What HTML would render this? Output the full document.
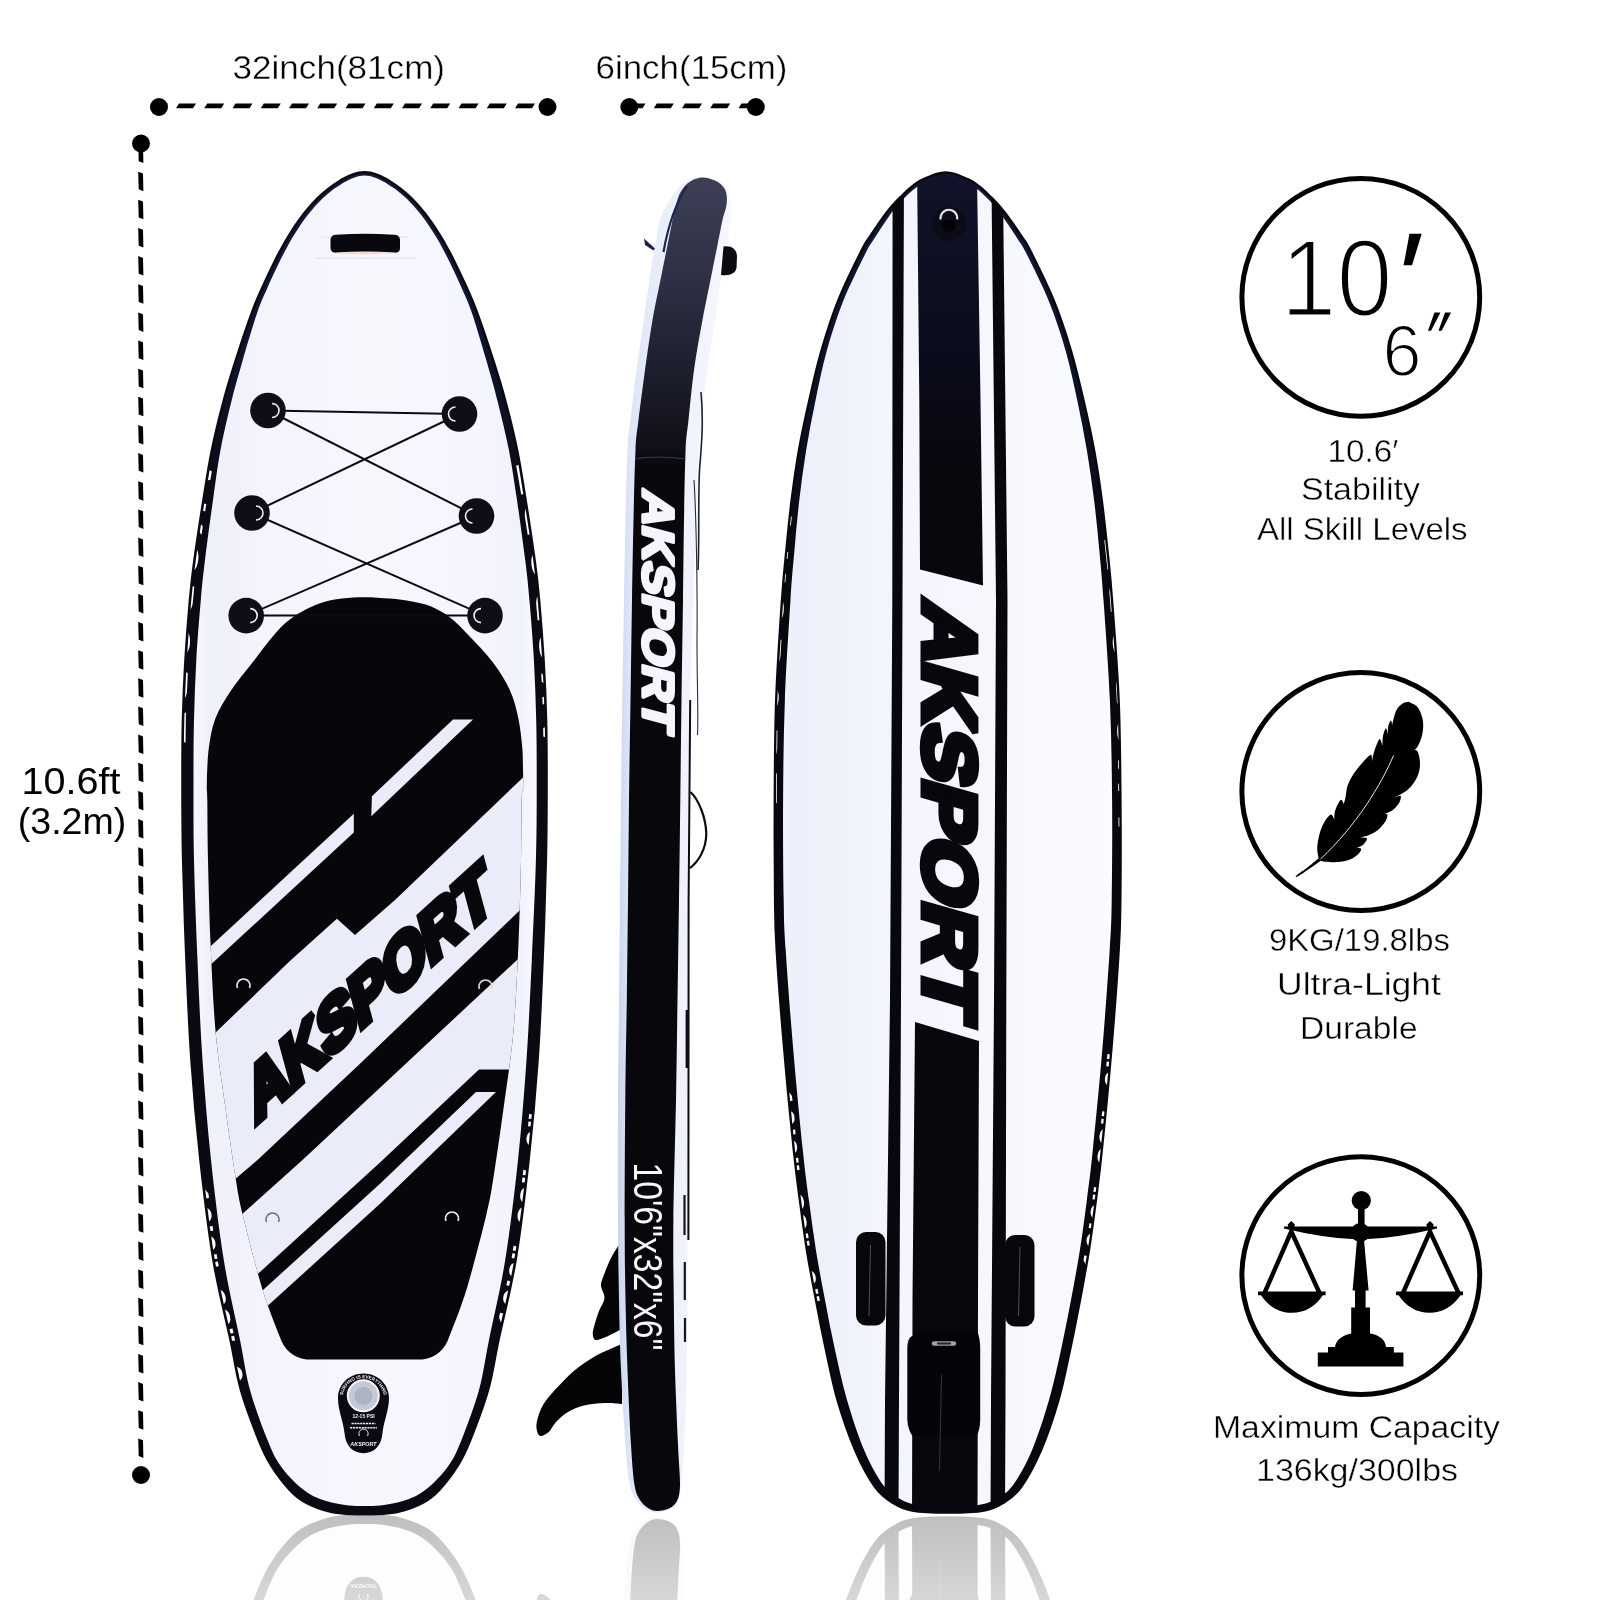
<!DOCTYPE html>
<html lang="en">
<head>
<meta charset="utf-8">
<title>AKSPORT inflatable paddle board 10'6" - dimensions</title>
<style>
html,body{margin:0;padding:0;background:#fff;}
body{width:1600px;height:1600px;overflow:hidden;font-family:'Liberation Sans', Arial, Helvetica, sans-serif;}
svg{display:block;will-change:transform;}
</style>
</head>
<body>
<svg width="1600" height="1600" viewBox="0 0 1600 1600" role="img" aria-label="AKSPORT inflatable stand up paddle board, deck, side and bottom views with dimensions">
<defs>
<linearGradient id="railnavy" gradientUnits="userSpaceOnUse" x1="0" y1="170" x2="0" y2="520"><stop offset="0" stop-color="#141c3e"/><stop offset="0.6" stop-color="#0e1228"/><stop offset="1" stop-color="#0a0a12"/></linearGradient><linearGradient id="deckg" x1="0" y1="0" x2="1" y2="0"><stop offset="0" stop-color="#f6f7fd"/><stop offset="0.05" stop-color="#eef0fa"/><stop offset="0.2" stop-color="#f3f4fc"/><stop offset="0.5" stop-color="#f7f8fe"/><stop offset="0.8" stop-color="#f5f6fd"/><stop offset="0.95" stop-color="#f1f3fc"/><stop offset="1" stop-color="#f9fafe"/></linearGradient><path id="b1rl1" d="M180.5 450.0C179.1 458.3 174.9 481.7 172.0 500.0C169.1 518.3 165.2 543.3 163.0 560.0C160.8 576.7 160.0 583.3 158.5 600.0C157.0 616.7 155.2 640.0 154.0 660.0C152.8 680.0 152.0 700.0 151.5 720.0C151.0 740.0 151.1 770.0 151.0 780.0"/><path id="b1rl2" d="M179.5 1160.0C181.7 1176.7 187.5 1230.0 192.5 1260.0C197.5 1290.0 205.0 1318.3 209.6 1340.0C214.2 1361.7 218.3 1381.7 220.0 1390.0"/><path id="b1rr1" d="M578.0 780.0C577.9 770.0 578.0 740.0 577.5 720.0C577.0 700.0 576.2 680.0 575.0 660.0C573.8 640.0 572.0 616.7 570.5 600.0C569.0 583.3 568.2 576.7 566.0 560.0C563.8 543.3 559.9 518.3 557.0 500.0C554.1 481.7 549.9 458.3 548.5 450.0"/><path id="b1rr2" d="M509.0 1390.0C510.7 1381.7 514.8 1361.7 519.4 1340.0C524.0 1318.3 531.5 1290.0 536.5 1260.0C541.5 1230.0 545.8 1193.3 549.5 1160.0C553.2 1126.7 557.0 1076.7 558.5 1060.0"/><clipPath id="padclip"><path d="M206.8 790.0C206.9 786.7 206.8 777.2 207.2 770.0C207.6 762.8 207.7 755.3 209.0 746.8C210.3 738.2 211.6 728.1 215.3 718.7C219.0 709.3 224.8 700.0 231.0 690.6C237.2 681.2 245.2 671.9 252.5 662.5C259.8 653.1 267.8 641.9 274.5 634.4C281.2 626.9 285.1 622.6 292.5 617.5C299.9 612.4 310.4 606.9 318.7 603.8C326.9 600.6 334.4 599.7 342.0 598.6C349.6 597.5 356.5 597.2 364.5 597.2C372.5 597.2 382.1 597.9 390.0 598.6C397.9 599.3 405.1 600.3 412.0 601.6C418.9 602.9 424.9 604.0 431.2 606.6C437.5 609.2 443.9 612.9 450.0 617.5C456.1 622.1 460.6 626.9 467.8 634.4C475.0 641.9 486.0 653.1 493.0 662.5C500.0 671.9 505.8 681.2 510.0 690.6C514.2 700.0 516.4 709.3 518.4 718.7C520.4 728.1 521.4 738.2 522.2 746.8C523.0 755.3 522.8 762.8 523.0 770.0C523.2 777.2 523.2 786.7 523.2 790.0C523.0 791.7 522.1 788.3 521.7 800.0C521.3 811.7 521.5 835.8 521.0 860.0C520.5 884.2 519.7 916.3 518.4 945.0C517.1 973.7 515.8 1005.3 513.4 1032.0C511.0 1058.7 507.3 1080.7 504.0 1105.0C500.7 1129.3 496.3 1159.8 493.4 1178.0C490.5 1196.2 490.2 1198.0 486.5 1214.0C482.8 1230.0 475.2 1258.7 471.0 1274.0C466.8 1289.3 464.6 1295.7 461.0 1306.0C457.4 1316.3 451.4 1331.0 449.5 1336.0Q443.0 1356.5 422.5 1359.5L306.5 1359.5Q286.0 1356.5 279.5 1336.0C277.6 1331.0 271.6 1316.3 268.0 1306.0C264.4 1295.7 262.2 1289.3 258.0 1274.0C253.8 1258.7 246.2 1230.0 242.5 1214.0C238.8 1198.0 238.5 1196.2 235.6 1178.0C232.7 1159.8 228.3 1129.3 225.0 1105.0C221.7 1080.7 218.0 1058.7 215.6 1032.0C213.2 1005.3 211.9 973.7 210.6 945.0C209.3 916.3 208.6 884.2 208.0 860.0C207.4 835.8 207.5 811.7 207.3 800.0C207.1 788.3 206.9 791.7 206.8 790.0Z"/></clipPath><path id="valvearc" d="M342.5 1399A20.8 20.8 0 0 1 384.1 1399"/><linearGradient id="railg" x1="0" y1="0" x2="1" y2="0"><stop offset="0" stop-color="#c9d3ec"/><stop offset="0.1" stop-color="#dde5f6"/><stop offset="0.5" stop-color="#eef1fb"/><stop offset="1" stop-color="#f7f8fe"/></linearGradient><linearGradient id="bandg" gradientUnits="userSpaceOnUse" x1="0" y1="177" x2="0" y2="470"><stop offset="0" stop-color="#3c3f55"/><stop offset="0.3" stop-color="#303348"/><stop offset="0.62" stop-color="#1f2130"/><stop offset="0.92" stop-color="#0f1018"/><stop offset="1" stop-color="#07070c"/></linearGradient><linearGradient id="hullnavy" gradientUnits="userSpaceOnUse" x1="0" y1="170" x2="0" y2="560"><stop offset="0" stop-color="#121838"/><stop offset="0.6" stop-color="#0d1024"/><stop offset="1" stop-color="#08080f"/></linearGradient><clipPath id="hullclip"><path d="M945.6 172.5C942.6 172.5 939.4 173.2 936.6 174.0C933.8 174.8 931.4 175.8 928.6 177.0C925.8 178.2 922.0 179.8 919.6 181.0C917.3 182.2 916.3 183.2 914.6 184.5C913.0 185.8 911.8 186.6 909.7 188.5C907.5 190.4 904.3 193.5 901.7 196.0C899.1 198.5 896.7 200.8 894.2 203.5C891.7 206.2 889.5 208.9 886.7 212.5C884.0 216.1 880.6 220.9 877.8 225.0C875.0 229.1 872.5 232.8 869.8 237.0C867.2 241.2 867.1 239.5 861.9 250.0C856.6 260.5 845.2 283.3 838.5 300.0C831.8 316.7 826.6 333.3 821.7 350.0C816.8 366.7 813.1 383.3 809.4 400.0C805.6 416.7 802.0 433.3 799.0 450.0C796.1 466.7 793.8 483.3 791.7 500.0C789.6 516.7 788.0 533.3 786.4 550.0C784.7 566.7 783.7 575.0 782.0 600.0C780.3 625.0 777.4 666.7 776.2 700.0C775.0 733.3 775.0 766.7 774.8 800.0C774.6 833.3 774.8 875.0 775.1 900.0C775.4 925.0 775.2 925.0 776.7 950.0C778.2 975.0 781.4 1016.7 784.3 1050.0C787.1 1083.3 791.2 1125.0 793.8 1150.0C796.4 1175.0 797.7 1183.3 799.9 1200.0C802.1 1216.7 804.2 1233.3 806.9 1250.0C809.6 1266.7 812.8 1283.3 816.0 1300.0C819.1 1316.7 822.4 1333.3 826.0 1350.0C829.6 1366.7 832.7 1383.3 837.5 1400.0C842.4 1416.7 848.8 1435.5 855.1 1450.0C861.3 1464.5 868.7 1478.2 875.1 1487.0C881.4 1495.8 886.9 1499.1 893.1 1503.0C899.3 1506.9 902.9 1508.9 912.1 1510.5C921.3 1512.1 936.1 1512.5 948.1 1512.5C960.1 1512.5 974.9 1512.1 984.1 1510.5C993.3 1508.9 996.9 1506.9 1003.1 1503.0C1009.3 1499.1 1014.8 1495.8 1021.1 1487.0C1027.4 1478.2 1034.8 1464.5 1041.1 1450.0C1047.3 1435.5 1053.7 1416.7 1058.5 1400.0C1063.3 1383.3 1066.4 1366.7 1070.0 1350.0C1073.6 1333.3 1076.8 1316.7 1080.0 1300.0C1083.1 1283.3 1086.3 1266.7 1088.9 1250.0C1091.6 1233.3 1093.7 1216.7 1095.9 1200.0C1098.0 1183.3 1099.3 1175.0 1101.8 1150.0C1104.4 1125.0 1108.5 1083.3 1111.3 1050.0C1114.1 1016.7 1117.2 975.0 1118.7 950.0C1120.2 925.0 1120.0 925.0 1120.3 900.0C1120.6 875.0 1120.7 833.3 1120.4 800.0C1120.1 766.7 1120.0 733.3 1118.6 700.0C1117.2 666.7 1113.9 625.0 1112.0 600.0C1110.2 575.0 1109.1 566.7 1107.4 550.0C1105.6 533.3 1103.9 516.7 1101.7 500.0C1099.5 483.3 1097.1 466.7 1094.0 450.0C1091.0 433.3 1087.2 416.7 1083.4 400.0C1079.5 383.3 1075.7 366.7 1070.7 350.0C1065.7 333.3 1060.3 316.7 1053.5 300.0C1046.7 283.3 1035.1 260.5 1029.9 250.0C1024.6 239.5 1024.5 241.2 1021.8 237.0C1019.1 232.8 1016.6 229.1 1013.8 225.0C1010.9 220.9 1007.5 216.1 1004.7 212.5C1002.0 208.9 999.7 206.2 997.2 203.5C994.7 200.8 992.3 198.5 989.7 196.0C987.1 193.5 983.8 190.4 981.7 188.5C979.5 186.6 978.3 185.8 976.6 184.5C975.0 183.2 974.0 182.2 971.6 181.0C969.3 179.8 965.5 178.2 962.6 177.0C959.8 175.8 957.4 174.8 954.6 174.0C951.8 173.2 948.6 172.5 945.6 172.5Z"/></clipPath><linearGradient id="hullg" x1="0" y1="0" x2="1" y2="0"><stop offset="0" stop-color="#f2f4fc"/><stop offset="0.04" stop-color="#eceff9"/><stop offset="0.3" stop-color="#f3f5fc"/><stop offset="0.7" stop-color="#f7f8fe"/><stop offset="0.95" stop-color="#f9fafe"/><stop offset="1" stop-color="#fbfcff"/></linearGradient><linearGradient id="stripenavy" gradientUnits="userSpaceOnUse" x1="0" y1="170" x2="0" y2="480"><stop offset="0" stop-color="#10132a"/><stop offset="0.7" stop-color="#0a0b18"/><stop offset="1" stop-color="#07070d"/></linearGradient><path id="b3rl1" d="M766.5 450.0C765.3 458.3 761.3 483.3 759.2 500.0C757.1 516.7 755.5 533.3 753.9 550.0C752.2 566.7 751.2 575.0 749.5 600.0C747.8 625.0 744.9 666.7 743.7 700.0C742.5 733.3 742.5 766.7 742.3 800.0C742.1 833.3 742.5 883.3 742.6 900.0"/><path id="b3rl2" d="M762.8 1050.0C764.4 1066.7 769.7 1125.0 772.3 1150.0C774.9 1175.0 776.2 1183.3 778.4 1200.0C780.6 1216.7 782.7 1233.3 785.4 1250.0C788.1 1266.7 791.3 1283.3 794.5 1300.0C797.6 1316.7 800.9 1333.3 804.5 1350.0C808.1 1366.7 814.1 1391.7 816.0 1400.0"/><path id="b3rr1" d="M1152.8 900.0C1152.8 883.3 1153.2 833.3 1152.9 800.0C1152.6 766.7 1152.5 733.3 1151.1 700.0C1149.7 666.7 1146.4 625.0 1144.5 600.0C1142.7 575.0 1141.6 566.7 1139.9 550.0C1138.1 533.3 1136.4 516.7 1134.2 500.0C1132.0 483.3 1127.8 458.3 1126.5 450.0"/><path id="b3rr2" d="M1080.0 1400.0C1081.9 1391.7 1087.9 1366.7 1091.5 1350.0C1095.1 1333.3 1098.3 1316.7 1101.5 1300.0C1104.6 1283.3 1107.8 1266.7 1110.4 1250.0C1113.1 1233.3 1115.2 1216.7 1117.4 1200.0C1119.5 1183.3 1120.8 1175.0 1123.3 1150.0C1125.9 1125.0 1131.2 1066.7 1132.8 1050.0"/><clipPath id="floorclip"><rect x="0" y="1515.5" width="1600" height="90"/></clipPath><linearGradient id="fade" gradientUnits="userSpaceOnUse" x1="0" y1="1515" x2="0" y2="1600"><stop offset="0" stop-color="#fff" stop-opacity="0.74"/><stop offset="1" stop-color="#fff" stop-opacity="0.84"/></linearGradient>
</defs>
<rect width="1600" height="1600" fill="#fff"/>
<g id="dimension-lines">
<path d="M159.0 108.2L162.0 103.4L167.8 103.4L164.8 108.2ZM176.0 108.2L179.0 103.4L196.0 103.4L193.0 108.2ZM204.2 108.2L207.2 103.4L224.2 103.4L221.2 108.2ZM232.5 108.2L235.5 103.4L252.5 103.4L249.5 108.2ZM260.8 108.2L263.8 103.4L280.8 103.4L277.8 108.2ZM289.0 108.2L292.0 103.4L309.0 103.4L306.0 108.2ZM317.2 108.2L320.2 103.4L337.2 103.4L334.2 108.2ZM345.5 108.2L348.5 103.4L365.5 103.4L362.5 108.2ZM373.8 108.2L376.8 103.4L393.8 103.4L390.8 108.2ZM402.0 108.2L405.0 103.4L422.0 103.4L419.0 108.2ZM430.2 108.2L433.2 103.4L450.2 103.4L447.2 108.2ZM458.5 108.2L461.5 103.4L478.5 103.4L475.5 108.2ZM486.8 108.2L489.8 103.4L506.8 103.4L503.8 108.2ZM515.0 108.2L518.0 103.4L535.0 103.4L532.0 108.2ZM543.2 108.2L546.2 103.4L549.0 103.4L546.0 108.2Z" fill="#000"/>
<circle cx="159" cy="107" r="9" fill="#000"/>
<circle cx="547.5" cy="107" r="9" fill="#000"/>
<path d="M629.0 108.2L632.0 103.4L645.5 103.4L642.5 108.2ZM653.8 108.2L656.8 103.4L673.8 103.4L670.8 108.2ZM682.0 108.2L685.0 103.4L702.0 103.4L699.0 108.2ZM710.2 108.2L713.2 103.4L730.2 103.4L727.2 108.2ZM738.5 108.2L741.5 103.4L757.5 103.4L754.5 108.2Z" fill="#000"/>
<circle cx="629.3" cy="107" r="9" fill="#000"/>
<circle cx="755.8" cy="107" r="9" fill="#000"/>
<path d="M138.2 143.5L143.0 145.3L143.4 163.0L138.7 161.2ZM138.2 171.7L143.0 173.5L143.4 191.2L138.7 189.3ZM138.2 199.8L143.0 201.6L143.4 219.3L138.7 217.5ZM138.2 228.0L143.0 229.8L143.4 247.5L138.7 245.7ZM138.2 256.1L143.0 257.9L143.4 275.6L138.7 273.8ZM138.2 284.2L143.0 286.1L143.4 303.8L138.7 301.9ZM138.2 312.4L143.0 314.2L143.4 331.9L138.7 330.1ZM138.2 340.5L143.0 342.3L143.4 360.0L138.7 358.2ZM138.2 368.7L143.0 370.5L143.4 388.2L138.7 386.4ZM138.2 396.8L143.0 398.6L143.4 416.3L138.7 414.5ZM138.2 425.0L143.0 426.8L143.4 444.5L138.7 442.7ZM138.2 453.1L143.0 454.9L143.4 472.6L138.7 470.8ZM138.2 481.3L143.0 483.1L143.4 500.8L138.7 499.0ZM138.2 509.4L143.0 511.2L143.4 528.9L138.7 527.1ZM138.2 537.6L143.0 539.4L143.4 557.1L138.7 555.3ZM138.2 565.7L143.0 567.5L143.4 585.2L138.7 583.4ZM138.2 593.9L143.0 595.7L143.4 613.4L138.7 611.6ZM138.2 622.0L143.0 623.8L143.4 641.5L138.7 639.7ZM138.2 650.2L143.0 652.0L143.4 669.7L138.7 667.9ZM138.2 678.3L143.0 680.1L143.4 697.8L138.7 696.0ZM138.2 706.5L143.0 708.3L143.4 726.0L138.7 724.2ZM138.2 734.6L143.0 736.4L143.4 754.1L138.7 752.3ZM138.2 762.8L143.0 764.6L143.4 782.3L138.7 780.5ZM138.2 790.9L143.0 792.7L143.4 810.4L138.7 808.6ZM138.2 819.1L143.0 820.9L143.4 838.6L138.7 836.8ZM138.2 847.2L143.0 849.0L143.4 866.7L138.7 864.9ZM138.2 875.4L143.0 877.2L143.4 894.9L138.7 893.1ZM138.2 903.5L143.0 905.3L143.4 923.0L138.7 921.2ZM138.2 931.7L143.0 933.5L143.4 951.2L138.7 949.4ZM138.2 959.8L143.0 961.6L143.4 979.3L138.7 977.5ZM138.2 988.0L143.0 989.8L143.4 1007.5L138.7 1005.7ZM138.2 1016.1L143.0 1017.9L143.4 1035.6L138.7 1033.8ZM138.2 1044.3L143.0 1046.1L143.4 1063.8L138.7 1062.0ZM138.2 1072.4L143.0 1074.2L143.4 1091.9L138.7 1090.1ZM138.2 1100.6L143.0 1102.4L143.4 1120.1L138.7 1118.3ZM138.2 1128.7L143.0 1130.5L143.4 1148.2L138.7 1146.4ZM138.2 1156.9L143.0 1158.7L143.4 1176.4L138.7 1174.6ZM138.2 1185.0L143.0 1186.8L143.4 1204.5L138.7 1202.8ZM138.2 1213.2L143.0 1215.0L143.4 1232.7L138.7 1230.9ZM138.2 1241.4L143.0 1243.2L143.4 1260.9L138.7 1259.1ZM138.2 1269.5L143.0 1271.3L143.4 1289.0L138.7 1287.2ZM138.2 1297.7L143.0 1299.5L143.4 1317.2L138.7 1315.4ZM138.2 1325.8L143.0 1327.6L143.4 1345.3L138.7 1343.5ZM138.2 1354.0L143.0 1355.8L143.4 1373.5L138.7 1371.7ZM138.2 1382.1L143.0 1383.9L143.4 1401.6L138.7 1399.8ZM138.2 1410.3L143.0 1412.1L143.4 1429.8L138.7 1428.0ZM138.2 1438.4L143.0 1440.2L143.4 1457.9L138.7 1456.1ZM138.2 1466.6L143.0 1468.4L143.4 1475.0L138.7 1473.2Z" fill="#000"/>
<circle cx="141" cy="143.5" r="9" fill="#000"/>
<circle cx="141" cy="1475" r="9" fill="#000"/>
</g>
<g id="labels">
<text x="338.8" y="79" font-family="'Liberation Sans', Arial, Helvetica, sans-serif" font-size="33.5" font-weight="400" text-anchor="middle" fill="#000" textLength="212.5" lengthAdjust="spacingAndGlyphs" stroke="#fff" stroke-width="0.4">32inch(81cm)</text>
<text x="691.5" y="79.2" font-family="'Liberation Sans', Arial, Helvetica, sans-serif" font-size="33.5" font-weight="400" text-anchor="middle" fill="#000" textLength="192" lengthAdjust="spacingAndGlyphs" stroke="#fff" stroke-width="0.4">6inch(15cm)</text>
<text x="71" y="793.8" font-family="'Liberation Sans', Arial, Helvetica, sans-serif" font-size="37" font-weight="400" text-anchor="middle" fill="#000" textLength="99" lengthAdjust="spacingAndGlyphs">10.6ft</text>
<text x="72" y="834" font-family="'Liberation Sans', Arial, Helvetica, sans-serif" font-size="37" font-weight="400" text-anchor="middle" fill="#000" textLength="108.5" lengthAdjust="spacingAndGlyphs">(3.2m)</text>
</g>
<g id="board-deck-view">
<path d="M364.5 172.2C362.6 172.2 360.5 172.5 358.8 172.8C357.1 173.1 355.9 173.5 354.3 174.0C352.7 174.5 351.0 175.2 349.3 176.0C347.6 176.8 345.9 177.6 344.2 178.5C342.5 179.4 340.8 180.4 339.0 181.5C337.2 182.6 335.5 183.8 333.7 185.0C331.9 186.2 330.2 187.5 328.3 189.0C326.4 190.5 324.4 192.2 322.3 194.0C320.2 195.8 318.1 197.8 316.0 200.0C313.9 202.2 311.7 204.5 309.5 207.0C307.3 209.5 305.2 212.2 303.0 215.0C300.8 217.8 298.8 220.7 296.5 224.0C294.2 227.3 291.8 231.2 289.4 235.0C287.0 238.8 284.7 242.8 282.4 247.0C280.1 251.2 278.6 253.7 275.5 260.0C272.4 266.3 267.4 276.7 263.6 285.0C259.9 293.3 257.6 297.5 253.0 310.0C248.4 322.5 240.8 345.0 236.0 360.0C231.2 375.0 228.0 385.0 224.0 400.0C220.0 415.0 215.4 433.3 212.0 450.0C208.6 466.7 206.4 481.7 203.5 500.0C200.6 518.3 196.8 543.3 194.5 560.0C192.2 576.7 191.5 583.3 190.0 600.0C188.5 616.7 186.7 640.0 185.5 660.0C184.3 680.0 183.5 700.0 183.0 720.0C182.5 740.0 182.5 756.7 182.5 780.0C182.5 803.3 182.5 830.0 183.2 860.0C183.9 890.0 185.1 926.7 186.5 960.0C187.9 993.3 189.2 1026.7 191.5 1060.0C193.8 1093.3 196.8 1126.7 200.5 1160.0C204.2 1193.3 208.5 1230.0 213.5 1260.0C218.5 1290.0 226.0 1318.3 230.6 1340.0C235.2 1361.7 236.3 1373.3 241.0 1390.0C245.7 1406.7 253.8 1427.5 258.8 1440.0C263.8 1452.5 265.8 1456.7 271.0 1465.0C276.2 1473.3 284.2 1483.8 290.0 1490.0C295.8 1496.2 299.3 1498.9 306.0 1502.5C312.7 1506.1 322.7 1509.6 330.0 1511.5C337.3 1513.4 344.2 1513.5 350.0 1514.0C355.8 1514.5 359.7 1514.5 364.5 1514.5C369.3 1514.5 373.2 1514.5 379.0 1514.0C384.8 1513.5 391.7 1513.4 399.0 1511.5C406.3 1509.6 416.3 1506.1 423.0 1502.5C429.7 1498.9 433.2 1496.2 439.0 1490.0C444.8 1483.8 452.8 1473.3 458.0 1465.0C463.2 1456.7 465.2 1452.5 470.2 1440.0C475.2 1427.5 483.3 1406.7 488.0 1390.0C492.7 1373.3 493.8 1361.7 498.4 1340.0C503.0 1318.3 510.5 1290.0 515.5 1260.0C520.5 1230.0 524.8 1193.3 528.5 1160.0C532.2 1126.7 535.2 1093.3 537.5 1060.0C539.8 1026.7 541.1 993.3 542.5 960.0C543.9 926.7 545.1 890.0 545.8 860.0C546.5 830.0 546.5 803.3 546.5 780.0C546.5 756.7 546.5 740.0 546.0 720.0C545.5 700.0 544.7 680.0 543.5 660.0C542.3 640.0 540.5 616.7 539.0 600.0C537.5 583.3 536.8 576.7 534.5 560.0C532.2 543.3 528.4 518.3 525.5 500.0C522.6 481.7 520.4 466.7 517.0 450.0C513.6 433.3 509.0 415.0 505.0 400.0C501.0 385.0 497.8 375.0 493.0 360.0C488.2 345.0 480.6 322.5 476.0 310.0C471.4 297.5 469.1 293.3 465.4 285.0C461.6 276.7 456.6 266.3 453.5 260.0C450.4 253.7 448.9 251.2 446.6 247.0C444.3 242.8 442.0 238.8 439.6 235.0C437.2 231.2 434.8 227.3 432.5 224.0C430.2 220.7 428.2 217.8 426.0 215.0C423.8 212.2 421.7 209.5 419.5 207.0C417.3 204.5 415.1 202.2 413.0 200.0C410.9 197.8 408.8 195.8 406.7 194.0C404.6 192.2 402.6 190.5 400.7 189.0C398.8 187.5 397.1 186.2 395.3 185.0C393.5 183.8 391.8 182.6 390.0 181.5C388.2 180.4 386.5 179.4 384.8 178.5C383.1 177.6 381.4 176.8 379.7 176.0C378.0 175.2 376.3 174.5 374.7 174.0C373.1 173.5 371.9 173.1 370.2 172.8C368.5 172.5 366.4 172.2 364.5 172.2Z" fill="url(#railnavy)"/>
<path d="M364.5 175.6C362.8 175.6 360.9 175.8 359.4 176.1C357.9 176.4 356.9 176.7 355.4 177.2C353.9 177.7 352.2 178.4 350.6 179.1C349.0 179.8 347.4 180.6 345.8 181.5C344.2 182.4 342.5 183.3 340.8 184.4C339.1 185.5 337.3 186.6 335.6 187.8C333.9 189.0 332.2 190.2 330.4 191.7C328.6 193.2 326.7 194.8 324.7 196.6C322.7 198.4 320.7 200.4 318.6 202.5C316.5 204.6 314.4 206.9 312.3 209.4C310.2 211.9 308.1 214.5 306.0 217.3C303.9 220.1 301.9 222.9 299.7 226.2C297.5 229.5 295.1 233.3 292.8 237.1C290.5 240.9 288.3 244.8 286.1 249.0C283.9 253.2 282.4 255.7 279.4 262.0C276.3 268.3 271.4 278.6 267.8 286.9C264.2 295.2 261.7 299.4 257.5 311.8C253.3 324.2 246.8 346.1 242.5 361.0C238.2 375.9 235.2 386.2 231.5 401.0C227.8 415.8 223.6 433.5 220.5 450.0C217.4 466.5 215.6 481.7 213.0 500.0C210.4 518.3 207.0 543.3 205.0 560.0C203.0 576.7 202.2 583.3 200.8 600.0C199.4 616.7 197.4 640.0 196.3 660.0C195.2 680.0 194.5 700.0 194.0 720.0C193.5 740.0 193.5 756.7 193.5 780.0C193.5 803.3 193.3 830.0 194.0 860.0C194.7 890.0 196.1 926.7 197.5 960.0C198.9 993.3 200.2 1026.7 202.5 1060.0C204.8 1093.3 207.4 1126.7 211.0 1160.0C214.6 1193.3 219.0 1230.0 223.8 1260.0C228.6 1290.0 235.6 1318.3 240.0 1340.0C244.4 1361.7 245.4 1373.3 250.0 1390.0C254.6 1406.7 262.5 1427.5 267.5 1440.0C272.5 1452.5 274.6 1457.2 280.0 1465.0C285.4 1472.8 293.3 1481.3 300.0 1487.0C306.7 1492.7 312.5 1496.0 320.0 1499.0C327.5 1502.0 337.6 1503.8 345.0 1505.0C352.4 1506.2 358.0 1506.0 364.5 1506.0C371.0 1506.0 376.6 1506.2 384.0 1505.0C391.4 1503.8 401.5 1502.0 409.0 1499.0C416.5 1496.0 422.3 1492.7 429.0 1487.0C435.7 1481.3 443.6 1472.8 449.0 1465.0C454.4 1457.2 456.5 1452.5 461.5 1440.0C466.5 1427.5 474.4 1406.7 479.0 1390.0C483.6 1373.3 484.6 1361.7 489.0 1340.0C493.4 1318.3 500.4 1290.0 505.2 1260.0C510.0 1230.0 514.5 1193.3 518.0 1160.0C521.5 1126.7 524.2 1093.3 526.5 1060.0C528.8 1026.7 530.2 993.3 531.8 960.0C533.3 926.7 535.1 890.0 535.9 860.0C536.8 830.0 536.7 803.3 536.7 780.0C536.7 756.7 536.7 740.0 536.2 720.0C535.7 700.0 535.0 680.0 533.9 660.0C532.8 640.0 530.9 616.7 529.4 600.0C528.0 583.3 527.3 576.7 525.2 560.0C523.1 543.3 519.7 518.3 517.0 500.0C514.2 481.7 512.1 466.5 508.9 450.0C505.6 433.5 501.2 415.8 497.5 401.0C493.8 386.2 490.8 375.9 486.5 361.0C482.2 346.1 475.7 324.2 471.5 311.8C467.3 299.4 464.8 295.2 461.2 286.9C457.6 278.6 452.7 268.3 449.6 262.0C446.6 255.7 445.1 253.2 442.9 249.0C440.7 244.8 438.5 240.9 436.2 237.1C433.9 233.3 431.5 229.5 429.3 226.2C427.1 222.9 425.1 220.1 423.0 217.3C420.9 214.5 418.8 211.9 416.7 209.4C414.6 206.9 412.5 204.6 410.4 202.5C408.3 200.4 406.3 198.4 404.3 196.6C402.3 194.8 400.4 193.2 398.6 191.7C396.8 190.2 395.1 189.0 393.4 187.8C391.7 186.6 389.9 185.5 388.2 184.4C386.5 183.3 384.8 182.4 383.2 181.5C381.6 180.6 380.0 179.8 378.4 179.1C376.8 178.4 375.1 177.7 373.6 177.2C372.1 176.7 371.1 176.4 369.6 176.1C368.1 175.8 366.2 175.6 364.5 175.6Z" fill="url(#deckg)"/>
<text font-family="'Liberation Sans', Arial, sans-serif" font-weight="700" fill="#fff" font-size="50" letter-spacing="8"><textPath href="#b1rl1" startOffset="2">AKSPORT</textPath></text>
<text font-family="'Liberation Sans', Arial, sans-serif" font-weight="700" fill="#fff" font-size="36" letter-spacing="0"><textPath href="#b1rl2" startOffset="28">10'6"x32"x6"</textPath></text>
<text font-family="'Liberation Sans', Arial, sans-serif" font-weight="700" fill="#fff" font-size="50" letter-spacing="8"><textPath href="#b1rr1" startOffset="30">AKSPORT</textPath></text>
<text font-family="'Liberation Sans', Arial, sans-serif" font-weight="700" fill="#fff" font-size="36" letter-spacing="0"><textPath href="#b1rr2" startOffset="60">10'6"x32"x6"</textPath></text>
<path d="M364.5 172.2C362.6 172.2 360.5 172.5 358.8 172.8C357.1 173.1 355.9 173.5 354.3 174.0C352.7 174.5 351.0 175.2 349.3 176.0C347.6 176.8 345.9 177.6 344.2 178.5C342.5 179.4 340.8 180.4 339.0 181.5C337.2 182.6 335.5 183.8 333.7 185.0C331.9 186.2 330.2 187.5 328.3 189.0C326.4 190.5 324.4 192.2 322.3 194.0C320.2 195.8 318.1 197.8 316.0 200.0C313.9 202.2 311.7 204.5 309.5 207.0C307.3 209.5 305.2 212.2 303.0 215.0C300.8 217.8 298.8 220.7 296.5 224.0C294.2 227.3 291.8 231.2 289.4 235.0C287.0 238.8 284.7 242.8 282.4 247.0C280.1 251.2 278.6 253.7 275.5 260.0C272.4 266.3 267.4 276.7 263.6 285.0C259.9 293.3 257.6 297.5 253.0 310.0C248.4 322.5 240.8 345.0 236.0 360.0C231.2 375.0 228.0 385.0 224.0 400.0C220.0 415.0 215.4 433.3 212.0 450.0C208.6 466.7 206.4 481.7 203.5 500.0C200.6 518.3 196.8 543.3 194.5 560.0C192.2 576.7 191.5 583.3 190.0 600.0C188.5 616.7 186.7 640.0 185.5 660.0C184.3 680.0 183.5 700.0 183.0 720.0C182.5 740.0 182.5 756.7 182.5 780.0C182.5 803.3 182.5 830.0 183.2 860.0C183.9 890.0 185.1 926.7 186.5 960.0C187.9 993.3 189.2 1026.7 191.5 1060.0C193.8 1093.3 196.8 1126.7 200.5 1160.0C204.2 1193.3 208.5 1230.0 213.5 1260.0C218.5 1290.0 226.0 1318.3 230.6 1340.0C235.2 1361.7 236.3 1373.3 241.0 1390.0C245.7 1406.7 253.8 1427.5 258.8 1440.0C263.8 1452.5 265.8 1456.7 271.0 1465.0C276.2 1473.3 284.2 1483.8 290.0 1490.0C295.8 1496.2 299.3 1498.9 306.0 1502.5C312.7 1506.1 322.7 1509.6 330.0 1511.5C337.3 1513.4 344.2 1513.5 350.0 1514.0C355.8 1514.5 359.7 1514.5 364.5 1514.5C369.3 1514.5 373.2 1514.5 379.0 1514.0C384.8 1513.5 391.7 1513.4 399.0 1511.5C406.3 1509.6 416.3 1506.1 423.0 1502.5C429.7 1498.9 433.2 1496.2 439.0 1490.0C444.8 1483.8 452.8 1473.3 458.0 1465.0C463.2 1456.7 465.2 1452.5 470.2 1440.0C475.2 1427.5 483.3 1406.7 488.0 1390.0C492.7 1373.3 493.8 1361.7 498.4 1340.0C503.0 1318.3 510.5 1290.0 515.5 1260.0C520.5 1230.0 524.8 1193.3 528.5 1160.0C532.2 1126.7 535.2 1093.3 537.5 1060.0C539.8 1026.7 541.1 993.3 542.5 960.0C543.9 926.7 545.1 890.0 545.8 860.0C546.5 830.0 546.5 803.3 546.5 780.0C546.5 756.7 546.5 740.0 546.0 720.0C545.5 700.0 544.7 680.0 543.5 660.0C542.3 640.0 540.5 616.7 539.0 600.0C537.5 583.3 536.8 576.7 534.5 560.0C532.2 543.3 528.4 518.3 525.5 500.0C522.6 481.7 520.4 466.7 517.0 450.0C513.6 433.3 509.0 415.0 505.0 400.0C501.0 385.0 497.8 375.0 493.0 360.0C488.2 345.0 480.6 322.5 476.0 310.0C471.4 297.5 469.1 293.3 465.4 285.0C461.6 276.7 456.6 266.3 453.5 260.0C450.4 253.7 448.9 251.2 446.6 247.0C444.3 242.8 442.0 238.8 439.6 235.0C437.2 231.2 434.8 227.3 432.5 224.0C430.2 220.7 428.2 217.8 426.0 215.0C423.8 212.2 421.7 209.5 419.5 207.0C417.3 204.5 415.1 202.2 413.0 200.0C410.9 197.8 408.8 195.8 406.7 194.0C404.6 192.2 402.6 190.5 400.7 189.0C398.8 187.5 397.1 186.2 395.3 185.0C393.5 183.8 391.8 182.6 390.0 181.5C388.2 180.4 386.5 179.4 384.8 178.5C383.1 177.6 381.4 176.8 379.7 176.0C378.0 175.2 376.3 174.5 374.7 174.0C373.1 173.5 371.9 173.1 370.2 172.8C368.5 172.5 366.4 172.2 364.5 172.2Z" fill="none" stroke="#0a0a12" stroke-width="2.6"/>
<path d="M322 236.5h86v1.2h-86zM315 257.5h100v1.6h-100z" fill="#e4e5f1"/>
<path d="M330.5 239.5Q331 235 336 234.8Q365 232.6 394 234.8Q399.6 235 400 239.5V248Q400 253 395 252.6Q365 250.2 336 252.6Q330.8 253 330.5 248Z" fill="#08080f"/>
<path d="M334 253.2Q365 250.6 396 253.2Q365 255.6 334 253.2Z" fill="#f7d9cf"/>
<path d="M206.8 790.0C206.9 786.7 206.8 777.2 207.2 770.0C207.6 762.8 207.7 755.3 209.0 746.8C210.3 738.2 211.6 728.1 215.3 718.7C219.0 709.3 224.8 700.0 231.0 690.6C237.2 681.2 245.2 671.9 252.5 662.5C259.8 653.1 267.8 641.9 274.5 634.4C281.2 626.9 285.1 622.6 292.5 617.5C299.9 612.4 310.4 606.9 318.7 603.8C326.9 600.6 334.4 599.7 342.0 598.6C349.6 597.5 356.5 597.2 364.5 597.2C372.5 597.2 382.1 597.9 390.0 598.6C397.9 599.3 405.1 600.3 412.0 601.6C418.9 602.9 424.9 604.0 431.2 606.6C437.5 609.2 443.9 612.9 450.0 617.5C456.1 622.1 460.6 626.9 467.8 634.4C475.0 641.9 486.0 653.1 493.0 662.5C500.0 671.9 505.8 681.2 510.0 690.6C514.2 700.0 516.4 709.3 518.4 718.7C520.4 728.1 521.4 738.2 522.2 746.8C523.0 755.3 522.8 762.8 523.0 770.0C523.2 777.2 523.2 786.7 523.2 790.0C523.0 791.7 522.1 788.3 521.7 800.0C521.3 811.7 521.5 835.8 521.0 860.0C520.5 884.2 519.7 916.3 518.4 945.0C517.1 973.7 515.8 1005.3 513.4 1032.0C511.0 1058.7 507.3 1080.7 504.0 1105.0C500.7 1129.3 496.3 1159.8 493.4 1178.0C490.5 1196.2 490.2 1198.0 486.5 1214.0C482.8 1230.0 475.2 1258.7 471.0 1274.0C466.8 1289.3 464.6 1295.7 461.0 1306.0C457.4 1316.3 451.4 1331.0 449.5 1336.0Q443.0 1356.5 422.5 1359.5L306.5 1359.5Q286.0 1356.5 279.5 1336.0C277.6 1331.0 271.6 1316.3 268.0 1306.0C264.4 1295.7 262.2 1289.3 258.0 1274.0C253.8 1258.7 246.2 1230.0 242.5 1214.0C238.8 1198.0 238.5 1196.2 235.6 1178.0C232.7 1159.8 228.3 1129.3 225.0 1105.0C221.7 1080.7 218.0 1058.7 215.6 1032.0C213.2 1005.3 211.9 973.7 210.6 945.0C209.3 916.3 208.6 884.2 208.0 860.0C207.4 835.8 207.5 811.7 207.3 800.0C207.1 788.3 206.9 791.7 206.8 790.0Z" fill="#06060b"/>
<g clip-path="url(#padclip)">
<path d="M453.0 719.4L473.0 719.4L371.3 816.3L371.9 796.3Z" fill="#eaedf9"/>
<path d="M353.8 813.8L353.8 832.5L200.0 974.5L200.0 956.0Z" fill="#eaedf9"/>
<path d="M190.0 1057.0L215.6 1032.5L291.0 960.0L336.9 918.8L355.0 935.0L395.0 900.0L523.0 777.5L560.0 742.0L560.0 872.0L517.5 912.5L360.0 1063.8L257.5 1160.0L235.6 1178.8L190.0 1220.0Z" fill="#eaedf9"/>
<path d="M560.0 920.0L517.0 960.0L302.5 1160.0L242.5 1213.8L190.0 1262.0L190.0 1336.0L258.0 1273.8L380.0 1162.5L479.0 1069.5L560.0 1069.5Z" fill="#eaedf9"/>
<path d="M476.0 1092.0L496.0 1092.0L380.0 1203.8L268.0 1305.6L230.0 1340.0L230.0 1320.0L263.0 1290.0L380.0 1183.8Z" fill="#eaedf9"/>
</g>
<text transform="translate(256 1123) rotate(-42.2) skewX(-27)" font-family="'Liberation Sans', Arial, sans-serif" font-weight="700" font-size="62" textLength="322" lengthAdjust="spacingAndGlyphs" fill="#07070c" stroke="#07070c" stroke-width="7.5" stroke-linejoin="miter" stroke-miterlimit="2.5">AKSPORT</text>
<path d="M268 410.5L459.5 414M268 410.5L476.5 516M459.5 414L252 513M252 513L485 615.6M476.5 516L246.2 615.6M246.2 615.6L485 615.6" stroke="#0b0b14" stroke-width="2" fill="none"/>
<circle cx="268" cy="410.5" r="17.8" fill="#0d0e18"/>
<path d="M272 403.5A7 7 0 0 1 272 417.5" stroke="#eef0f8" stroke-width="1.6" fill="none"/>
<circle cx="459.5" cy="414" r="17.8" fill="#0d0e18"/>
<path d="M455.5 407A7 7 0 0 0 455.5 421" stroke="#eef0f8" stroke-width="1.6" fill="none"/>
<circle cx="252" cy="513" r="17.8" fill="#0d0e18"/>
<path d="M256 506A7 7 0 0 1 256 520" stroke="#eef0f8" stroke-width="1.6" fill="none"/>
<circle cx="476.5" cy="516" r="17.8" fill="#0d0e18"/>
<path d="M472.5 509A7 7 0 0 0 472.5 523" stroke="#eef0f8" stroke-width="1.6" fill="none"/>
<circle cx="246.2" cy="615.6" r="17.8" fill="#0d0e18"/>
<path d="M250.2 608.6A7 7 0 0 1 250.2 622.6" stroke="#eef0f8" stroke-width="1.6" fill="none"/>
<circle cx="485" cy="615.6" r="17.8" fill="#0d0e18"/>
<path d="M481 608.6A7 7 0 0 0 481 622.6" stroke="#eef0f8" stroke-width="1.6" fill="none"/>
<path d="M237.5 988A6.5 6.5 0 1 1 249.5 988" stroke="#e8e8f0" stroke-width="1.6" fill="none"/>
<path d="M479.5 989A6.5 6.5 0 1 1 491.5 989" stroke="#d8d8e0" stroke-width="1.6" fill="none"/>
<path d="M266.5 1222A6.5 6.5 0 1 1 278.5 1222" stroke="#777" stroke-width="1.6" fill="none"/>
<path d="M446 1221A6.5 6.5 0 1 1 458 1221" stroke="#e8e8f0" stroke-width="1.6" fill="none"/>
<path d="M363.5 1373.5C378 1373.5 389 1384.5 389 1398C389 1410 384 1420 382.5 1433C381.5 1446 374 1453.2 363.5 1453.2C353 1453.2 345.5 1446 344.5 1433C343 1420 338 1410 338 1398C338 1384.5 349 1373.5 363.5 1373.5Z" fill="#0a0a12"/>
<circle cx="363.3" cy="1395.8" r="15.5" fill="#c5c9d6" stroke="#f4f5fb" stroke-width="2"/>
<circle cx="363.3" cy="1395.8" r="9" fill="#aeb3c2"/>
<text font-family="'Liberation Sans', Arial, sans-serif" font-weight="700" fill="#f2f2f8" text-anchor="middle" font-size="4.6"><textPath href="#valvearc" startOffset="50%">SURFING IS EVERYTHING</textPath></text>
<text font-family="'Liberation Sans', Arial, sans-serif" font-weight="700" fill="#f2f2f8" text-anchor="middle" x="363.5" y="1417.5" font-size="5">12-15 PSI</text>
<path d="M351.5 1423.6h24M350 1427.8h27" stroke="#e9eaf2" stroke-width="1.5" stroke-dasharray="2.2 0.7" fill="none"/>
<path d="M359.5 1436A4.6 4.6 0 1 1 367.5 1436" stroke="#f2f2f8" stroke-width="1" fill="none"/>
<text font-family="'Liberation Sans', Arial, sans-serif" font-weight="700" fill="#f2f2f8" text-anchor="middle" x="363.5" y="1446" font-size="5.4" font-style="italic">AKSPORT</text>
</g>
<g id="board-side-view">
<path d="M620.0 1243.0C618.5 1245.5 613.8 1252.5 611.0 1258.0C608.2 1263.5 605.2 1271.3 603.5 1276.0C601.8 1280.7 600.8 1282.3 601.0 1286.0C601.2 1289.7 604.8 1293.8 604.5 1298.0C604.2 1302.2 600.7 1306.5 599.0 1311.0C597.3 1315.5 595.5 1321.2 594.5 1325.0C593.5 1328.8 592.6 1331.5 592.8 1334.0C593.0 1336.5 593.4 1339.5 595.6 1340.0C597.8 1340.5 601.9 1338.7 606.0 1337.0C610.1 1335.3 617.7 1331.2 620.0 1330.0Z" fill="#050508"/>
<path d="M622.0 1344.0C619.7 1345.0 612.7 1347.8 608.0 1350.0C603.3 1352.2 599.3 1353.7 593.8 1357.0C588.3 1360.3 581.3 1364.7 575.0 1370.0C568.7 1375.3 561.3 1383.0 556.0 1388.8C550.7 1394.6 546.2 1399.6 543.0 1405.0C539.8 1410.4 538.0 1416.7 537.0 1421.0C536.0 1425.3 536.4 1428.5 537.0 1431.0C537.6 1433.5 538.5 1435.8 540.5 1436.0C542.5 1436.2 546.2 1434.3 548.8 1432.0C551.4 1429.7 552.8 1425.3 556.0 1422.0C559.2 1418.7 563.3 1414.7 568.0 1412.0C572.7 1409.3 577.8 1407.1 584.0 1405.6C590.2 1404.1 598.7 1403.3 605.0 1403.0C611.3 1402.7 619.2 1403.8 622.0 1404.0Z" fill="#050508"/>
<path d="M701.0 177.2C697.2 177.4 692.7 178.4 689.0 180.0C685.3 181.6 682.0 184.0 679.0 187.0C676.0 190.0 674.2 192.5 671.0 198.0C667.8 203.5 662.6 212.2 660.0 220.0C657.4 227.8 657.0 236.7 655.5 245.0C654.0 253.3 653.0 257.5 651.0 270.0C649.0 282.5 646.2 303.3 643.8 320.0C641.4 336.7 638.7 353.3 636.5 370.0C634.3 386.7 632.0 406.7 630.5 420.0C629.0 433.3 628.3 433.3 627.5 450.0C626.7 466.7 626.1 495.0 625.5 520.0C624.9 545.0 624.5 570.0 624.0 600.0C623.5 630.0 622.8 666.7 622.3 700.0C621.8 733.3 621.4 766.7 621.0 800.0C620.6 833.3 620.3 866.7 620.0 900.0C619.7 933.3 619.3 966.7 619.0 1000.0C618.7 1033.3 618.2 1063.3 618.0 1100.0C617.8 1136.7 617.8 1186.7 618.0 1220.0C618.2 1253.3 618.5 1275.0 619.0 1300.0C619.5 1325.0 619.9 1345.8 621.0 1370.0C622.1 1394.2 624.2 1426.2 625.6 1445.0C627.0 1463.8 627.7 1473.3 629.4 1482.5C631.1 1491.7 633.2 1495.5 636.0 1500.0C638.8 1504.5 642.7 1507.4 646.0 1509.5C649.3 1511.6 652.0 1512.5 656.0 1512.5C660.0 1512.5 666.2 1511.9 670.0 1509.5C673.8 1507.1 676.8 1506.2 679.0 1498.0C681.2 1489.8 682.3 1476.3 683.5 1460.0C684.7 1443.7 685.3 1426.7 686.0 1400.0C686.7 1373.3 687.2 1350.0 687.5 1300.0C687.8 1250.0 687.5 1150.0 687.5 1100.0C687.5 1050.0 687.5 1033.3 687.5 1000.0C687.5 966.7 687.5 933.3 687.6 900.0C687.7 866.7 687.8 833.3 688.2 800.0C688.6 766.7 689.3 733.3 690.2 700.0C691.1 666.7 692.5 630.0 693.5 600.0C694.5 570.0 695.1 545.0 696.0 520.0C696.9 495.0 697.9 466.7 698.8 450.0C699.7 433.3 700.0 433.3 701.5 420.0C703.0 406.7 705.2 386.7 707.5 370.0C709.8 353.3 712.5 336.7 715.0 320.0C717.5 303.3 720.5 282.5 722.5 270.0C724.5 257.5 725.6 253.3 727.0 245.0C728.4 236.7 730.2 226.5 731.0 220.0C731.8 213.5 731.9 210.7 731.5 206.0C731.1 201.3 730.1 195.8 728.5 192.0C726.9 188.2 724.8 185.2 722.0 183.0C719.2 180.8 715.5 179.5 712.0 178.5C708.5 177.5 704.8 176.9 701.0 177.2Z" fill="url(#railg)"/>
<path d="M702.0 177.6C698.7 177.8 695.0 178.9 692.0 180.5C689.0 182.1 686.3 184.1 684.0 187.0C681.7 189.9 679.9 192.5 678.0 198.0C676.1 203.5 674.2 212.2 672.5 220.0C670.8 227.8 669.2 236.7 667.5 245.0C665.8 253.3 665.0 257.5 662.5 270.0C660.0 282.5 655.4 303.3 652.5 320.0C649.6 336.7 647.3 353.3 645.0 370.0C642.7 386.7 640.1 406.7 638.5 420.0C636.9 433.3 636.3 433.3 635.5 450.0C634.7 466.7 634.1 495.0 633.5 520.0C632.9 545.0 632.5 570.0 632.0 600.0C631.5 630.0 631.0 666.7 630.5 700.0C630.0 733.3 629.4 766.7 629.0 800.0C628.6 833.3 628.4 866.7 628.0 900.0C627.6 933.3 627.2 966.7 626.8 1000.0C626.3 1033.3 625.6 1063.3 625.3 1100.0C624.9 1136.7 624.7 1186.7 624.7 1220.0C624.7 1253.3 625.0 1275.0 625.5 1300.0C626.0 1325.0 626.6 1345.8 627.5 1370.0C628.4 1394.2 629.8 1425.8 631.0 1445.0C632.2 1464.2 633.0 1475.8 634.5 1485.0C636.0 1494.2 637.8 1496.2 640.0 1500.0C642.2 1503.8 645.2 1506.2 648.0 1508.0C650.8 1509.8 653.5 1510.9 657.0 1511.0C660.5 1511.1 665.7 1510.2 669.0 1508.5C672.3 1506.8 675.2 1504.9 677.0 1501.0C678.8 1497.1 679.8 1494.3 680.0 1485.0C680.2 1475.7 678.8 1464.2 678.0 1445.0C677.2 1425.8 675.7 1394.2 675.0 1370.0C674.3 1345.8 674.1 1325.0 673.8 1300.0C673.5 1275.0 673.0 1253.3 673.4 1220.0C673.8 1186.7 675.3 1136.7 676.0 1100.0C676.7 1063.3 677.0 1033.3 677.5 1000.0C678.0 966.7 678.5 933.3 679.0 900.0C679.5 866.7 679.9 833.3 680.3 800.0C680.7 766.7 681.0 733.3 681.5 700.0C682.0 666.7 682.6 630.0 683.0 600.0C683.4 570.0 683.6 545.0 684.0 520.0C684.4 495.0 684.9 466.7 685.6 450.0C686.4 433.3 687.1 433.3 688.5 420.0C689.9 406.7 691.7 386.7 694.0 370.0C696.3 353.3 699.4 336.7 702.5 320.0C705.6 303.3 710.0 282.5 712.5 270.0C715.0 257.5 715.8 253.3 717.5 245.0C719.2 236.7 721.0 226.7 722.5 220.0C724.0 213.3 725.9 209.7 726.5 205.0C727.1 200.3 727.0 195.5 726.0 192.0C725.0 188.5 722.8 186.1 720.5 184.0C718.2 181.9 715.1 180.6 712.0 179.5C708.9 178.4 705.3 177.4 702.0 177.6Z" fill="url(#bandg)"/>
<path d="M687 186C676 203 668 226 663.5 252" stroke="#1b2550" stroke-width="2.2" fill="none"/>
<path d="M636 458.5Q660 455.5 685.5 459" stroke="#3a3c4a" stroke-width="1" fill="none"/>
<path d="M690.2 700C689.4 780 688.8 840 688.6 900C688.4 980 688.4 1080 688.4 1240" stroke="#0c0c14" stroke-width="2" fill="none"/>
<path d="M723.5 246.5Q736 245 737 256L736.5 268Q735 276.5 721 275Z" fill="#0b0b12"/>
<path d="M644 238.5L655 248.5L653.5 250.5L645 245Z" fill="#1a2140"/>
<path d="M701 392C703.5 420 702 440 699.5 470C698 500 699.5 540 698 570" stroke="#1c2036" stroke-width="1.6" fill="none"/>
<path d="M694 480C696.5 520 697.5 600 697 640C697 680 698.5 720 697.5 735" stroke="#2a2c3a" stroke-width="1.1" fill="none"/>
<path d="M690.5 792C699 800 706 818 706.3 834C706 850 698 862 690 868" stroke="#0c0c14" stroke-width="2.2" fill="none"/>
<path d="M686.8 1010v58" stroke="#0c0c14" stroke-width="2.4"/>
<path d="M684.5 1195v40M684.8 1262v38M685 1318v24" stroke="#16161e" stroke-width="2.2"/>
<text transform="translate(643 488) rotate(90) skewX(-15)" font-family="'Liberation Sans', Arial, sans-serif" font-weight="700" font-size="44" textLength="240" lengthAdjust="spacingAndGlyphs" fill="#f4f5fd" stroke="#f4f5fd" stroke-width="3.4" stroke-linejoin="round">AKSPORT</text>
<text transform="translate(633.5 1162.5) rotate(90)" font-family="'Liberation Sans', Arial, sans-serif" font-size="41" textLength="188" lengthAdjust="spacingAndGlyphs" fill="#f6f7fd">10'6"x32"x6"</text>
</g>
<g id="board-bottom-view">
<path d="M945.6 172.5C942.6 172.5 939.4 173.2 936.6 174.0C933.8 174.8 931.4 175.8 928.6 177.0C925.8 178.2 922.0 179.8 919.6 181.0C917.3 182.2 916.3 183.2 914.6 184.5C913.0 185.8 911.8 186.6 909.7 188.5C907.5 190.4 904.3 193.5 901.7 196.0C899.1 198.5 896.7 200.8 894.2 203.5C891.7 206.2 889.5 208.9 886.7 212.5C884.0 216.1 880.6 220.9 877.8 225.0C875.0 229.1 872.5 232.8 869.8 237.0C867.2 241.2 867.1 239.5 861.9 250.0C856.6 260.5 845.2 283.3 838.5 300.0C831.8 316.7 826.6 333.3 821.7 350.0C816.8 366.7 813.1 383.3 809.4 400.0C805.6 416.7 802.0 433.3 799.0 450.0C796.1 466.7 793.8 483.3 791.7 500.0C789.6 516.7 788.0 533.3 786.4 550.0C784.7 566.7 783.7 575.0 782.0 600.0C780.3 625.0 777.4 666.7 776.2 700.0C775.0 733.3 775.0 766.7 774.8 800.0C774.6 833.3 774.8 875.0 775.1 900.0C775.4 925.0 775.2 925.0 776.7 950.0C778.2 975.0 781.4 1016.7 784.3 1050.0C787.1 1083.3 791.2 1125.0 793.8 1150.0C796.4 1175.0 797.7 1183.3 799.9 1200.0C802.1 1216.7 804.2 1233.3 806.9 1250.0C809.6 1266.7 812.8 1283.3 816.0 1300.0C819.1 1316.7 822.4 1333.3 826.0 1350.0C829.6 1366.7 832.7 1383.3 837.5 1400.0C842.4 1416.7 848.8 1435.5 855.1 1450.0C861.3 1464.5 868.7 1478.2 875.1 1487.0C881.4 1495.8 886.9 1499.1 893.1 1503.0C899.3 1506.9 902.9 1508.9 912.1 1510.5C921.3 1512.1 936.1 1512.5 948.1 1512.5C960.1 1512.5 974.9 1512.1 984.1 1510.5C993.3 1508.9 996.9 1506.9 1003.1 1503.0C1009.3 1499.1 1014.8 1495.8 1021.1 1487.0C1027.4 1478.2 1034.8 1464.5 1041.1 1450.0C1047.3 1435.5 1053.7 1416.7 1058.5 1400.0C1063.3 1383.3 1066.4 1366.7 1070.0 1350.0C1073.6 1333.3 1076.8 1316.7 1080.0 1300.0C1083.1 1283.3 1086.3 1266.7 1088.9 1250.0C1091.6 1233.3 1093.7 1216.7 1095.9 1200.0C1098.0 1183.3 1099.3 1175.0 1101.8 1150.0C1104.4 1125.0 1108.5 1083.3 1111.3 1050.0C1114.1 1016.7 1117.2 975.0 1118.7 950.0C1120.2 925.0 1120.0 925.0 1120.3 900.0C1120.6 875.0 1120.7 833.3 1120.4 800.0C1120.1 766.7 1120.0 733.3 1118.6 700.0C1117.2 666.7 1113.9 625.0 1112.0 600.0C1110.2 575.0 1109.1 566.7 1107.4 550.0C1105.6 533.3 1103.9 516.7 1101.7 500.0C1099.5 483.3 1097.1 466.7 1094.0 450.0C1091.0 433.3 1087.2 416.7 1083.4 400.0C1079.5 383.3 1075.7 366.7 1070.7 350.0C1065.7 333.3 1060.3 316.7 1053.5 300.0C1046.7 283.3 1035.1 260.5 1029.9 250.0C1024.6 239.5 1024.5 241.2 1021.8 237.0C1019.1 232.8 1016.6 229.1 1013.8 225.0C1010.9 220.9 1007.5 216.1 1004.7 212.5C1002.0 208.9 999.7 206.2 997.2 203.5C994.7 200.8 992.3 198.5 989.7 196.0C987.1 193.5 983.8 190.4 981.7 188.5C979.5 186.6 978.3 185.8 976.6 184.5C975.0 183.2 974.0 182.2 971.6 181.0C969.3 179.8 965.5 178.2 962.6 177.0C959.8 175.8 957.4 174.8 954.6 174.0C951.8 173.2 948.6 172.5 945.6 172.5Z" fill="url(#hullnavy)"/>
<path d="M945.6 175.6C942.8 175.6 939.8 176.3 937.1 177.0C934.5 177.7 932.3 178.8 929.6 180.0C927.0 181.2 923.4 182.8 921.1 184.0C918.9 185.2 917.8 186.2 916.2 187.5C914.5 188.8 913.3 189.6 911.2 191.5C909.0 193.4 905.9 196.5 903.4 199.0C900.9 201.5 898.6 203.7 896.2 206.5C893.9 209.3 891.8 212.3 889.2 216.0C886.7 219.7 883.5 224.4 880.8 228.5C878.1 232.6 875.6 236.3 873.0 240.5C870.5 244.7 870.4 243.3 865.4 253.5C860.4 263.7 849.5 285.2 843.0 301.5C836.6 317.8 831.3 334.4 826.7 351.0C822.1 367.6 818.8 384.3 815.4 401.0C811.9 417.7 808.7 434.3 806.0 451.0C803.3 467.7 801.1 484.3 799.2 501.0C797.3 517.7 795.8 534.5 794.4 551.0C792.9 567.5 792.1 575.2 790.5 600.0C788.9 624.8 786.1 666.7 784.9 700.0C783.6 733.3 783.3 766.7 783.1 800.0C782.9 833.3 783.2 875.0 783.7 900.0C784.1 925.0 784.1 925.0 785.7 950.0C787.3 975.0 790.4 1016.7 793.3 1050.0C796.1 1083.3 800.2 1125.0 802.8 1150.0C805.4 1175.0 806.7 1183.3 808.9 1200.0C811.1 1216.7 813.2 1233.3 815.9 1250.0C818.6 1266.7 821.8 1283.3 825.0 1300.0C828.1 1316.7 831.3 1333.3 835.0 1350.0C838.7 1366.7 842.2 1383.3 847.0 1400.0C851.9 1416.7 858.0 1435.8 864.1 1450.0C870.1 1464.2 877.1 1476.8 883.1 1485.0C889.1 1493.2 894.3 1495.7 900.1 1499.0C905.9 1502.3 910.1 1503.8 918.1 1505.0C926.1 1506.2 938.1 1506.5 948.1 1506.5C958.1 1506.5 970.1 1506.2 978.1 1505.0C986.1 1503.8 990.3 1502.3 996.1 1499.0C1001.9 1495.7 1007.1 1493.2 1013.1 1485.0C1019.1 1476.8 1026.1 1464.2 1032.1 1450.0C1038.0 1435.8 1044.2 1416.7 1049.0 1400.0C1053.8 1383.3 1057.3 1366.7 1061.0 1350.0C1064.6 1333.3 1067.8 1316.7 1071.0 1300.0C1074.1 1283.3 1077.3 1266.7 1079.9 1250.0C1082.6 1233.3 1084.7 1216.7 1086.9 1200.0C1089.0 1183.3 1090.3 1175.0 1092.8 1150.0C1095.4 1125.0 1099.5 1083.3 1102.3 1050.0C1105.1 1016.7 1108.1 975.0 1109.7 950.0C1111.3 925.0 1111.3 925.0 1111.7 900.0C1112.1 875.0 1112.4 833.3 1112.1 800.0C1111.8 766.7 1111.3 733.3 1109.9 700.0C1108.4 666.7 1105.3 624.8 1103.5 600.0C1101.8 575.2 1100.9 567.5 1099.4 551.0C1097.8 534.5 1096.3 517.7 1094.2 501.0C1092.1 484.3 1089.8 467.7 1087.0 451.0C1084.2 434.3 1080.9 417.7 1077.4 401.0C1073.8 384.3 1070.4 367.6 1065.7 351.0C1061.0 334.4 1055.6 317.8 1049.0 301.5C1042.5 285.2 1031.4 263.7 1026.4 253.5C1021.3 243.3 1021.2 244.7 1018.6 240.5C1016.0 236.3 1013.5 232.6 1010.8 228.5C1008.1 224.4 1004.8 219.7 1002.2 216.0C999.7 212.3 997.6 209.3 995.2 206.5C992.8 203.7 990.5 201.5 988.0 199.0C985.5 196.5 982.3 193.4 980.2 191.5C978.0 189.6 976.8 188.8 975.2 187.5C973.5 186.2 972.4 185.2 970.1 184.0C967.9 182.8 964.3 181.2 961.6 180.0C959.0 178.8 956.8 177.7 954.1 177.0C951.4 176.3 948.4 175.6 945.6 175.6Z" fill="url(#hullg)"/>
<g clip-path="url(#hullclip)">
<path d="M892.6 170.0L904.0 170.0L902.5 600.0L901.0 1000.0L899.0 1400.0L898.5 1520.0L884.5 1520.0L885.0 1400.0L890.0 1000.0L892.3 600.0Z" fill="#07070d"/>
<path d="M991.3 170.0L1002.8 170.0L1007.5 600.0L1006.3 1000.0L1005.5 1400.0L1005.0 1520.0L990.5 1520.0L991.0 1400.0L994.0 1000.0L996.0 600.0Z" fill="#07070d"/>
<path d="M917.0 165.0L976.8 165.0L980.5 400.0L983.0 585.5L920.0 569.5L919.3 400.0Z" fill="url(#stripenavy)"/>
<path d="M915.0 1022.0L979.0 1041.0L978.0 1300.0L977.5 1520.0L912.0 1520.0L912.5 1300.0Z" fill="#07070d"/>
</g>
<text font-family="'Liberation Sans', Arial, sans-serif" font-weight="700" fill="#fff" font-size="50" letter-spacing="10"><textPath href="#b3rl1" startOffset="50">AKSPORT</textPath></text>
<text font-family="'Liberation Sans', Arial, sans-serif" font-weight="700" fill="#fff" font-size="36" letter-spacing="0"><textPath href="#b3rl2" startOffset="40">10'6"x32"x6"</textPath></text>
<text font-family="'Liberation Sans', Arial, sans-serif" font-weight="700" fill="#fff" font-size="50" letter-spacing="10"><textPath href="#b3rr1" startOffset="60">AKSPORT</textPath></text>
<text font-family="'Liberation Sans', Arial, sans-serif" font-weight="700" fill="#fff" font-size="36" letter-spacing="0"><textPath href="#b3rr2" startOffset="130">10'6"x32"x6"</textPath></text>
<path d="M945.6 172.5C942.6 172.5 939.4 173.2 936.6 174.0C933.8 174.8 931.4 175.8 928.6 177.0C925.8 178.2 922.0 179.8 919.6 181.0C917.3 182.2 916.3 183.2 914.6 184.5C913.0 185.8 911.8 186.6 909.7 188.5C907.5 190.4 904.3 193.5 901.7 196.0C899.1 198.5 896.7 200.8 894.2 203.5C891.7 206.2 889.5 208.9 886.7 212.5C884.0 216.1 880.6 220.9 877.8 225.0C875.0 229.1 872.5 232.8 869.8 237.0C867.2 241.2 867.1 239.5 861.9 250.0C856.6 260.5 845.2 283.3 838.5 300.0C831.8 316.7 826.6 333.3 821.7 350.0C816.8 366.7 813.1 383.3 809.4 400.0C805.6 416.7 802.0 433.3 799.0 450.0C796.1 466.7 793.8 483.3 791.7 500.0C789.6 516.7 788.0 533.3 786.4 550.0C784.7 566.7 783.7 575.0 782.0 600.0C780.3 625.0 777.4 666.7 776.2 700.0C775.0 733.3 775.0 766.7 774.8 800.0C774.6 833.3 774.8 875.0 775.1 900.0C775.4 925.0 775.2 925.0 776.7 950.0C778.2 975.0 781.4 1016.7 784.3 1050.0C787.1 1083.3 791.2 1125.0 793.8 1150.0C796.4 1175.0 797.7 1183.3 799.9 1200.0C802.1 1216.7 804.2 1233.3 806.9 1250.0C809.6 1266.7 812.8 1283.3 816.0 1300.0C819.1 1316.7 822.4 1333.3 826.0 1350.0C829.6 1366.7 832.7 1383.3 837.5 1400.0C842.4 1416.7 848.8 1435.5 855.1 1450.0C861.3 1464.5 868.7 1478.2 875.1 1487.0C881.4 1495.8 886.9 1499.1 893.1 1503.0C899.3 1506.9 902.9 1508.9 912.1 1510.5C921.3 1512.1 936.1 1512.5 948.1 1512.5C960.1 1512.5 974.9 1512.1 984.1 1510.5C993.3 1508.9 996.9 1506.9 1003.1 1503.0C1009.3 1499.1 1014.8 1495.8 1021.1 1487.0C1027.4 1478.2 1034.8 1464.5 1041.1 1450.0C1047.3 1435.5 1053.7 1416.7 1058.5 1400.0C1063.3 1383.3 1066.4 1366.7 1070.0 1350.0C1073.6 1333.3 1076.8 1316.7 1080.0 1300.0C1083.1 1283.3 1086.3 1266.7 1088.9 1250.0C1091.6 1233.3 1093.7 1216.7 1095.9 1200.0C1098.0 1183.3 1099.3 1175.0 1101.8 1150.0C1104.4 1125.0 1108.5 1083.3 1111.3 1050.0C1114.1 1016.7 1117.2 975.0 1118.7 950.0C1120.2 925.0 1120.0 925.0 1120.3 900.0C1120.6 875.0 1120.7 833.3 1120.4 800.0C1120.1 766.7 1120.0 733.3 1118.6 700.0C1117.2 666.7 1113.9 625.0 1112.0 600.0C1110.2 575.0 1109.1 566.7 1107.4 550.0C1105.6 533.3 1103.9 516.7 1101.7 500.0C1099.5 483.3 1097.1 466.7 1094.0 450.0C1091.0 433.3 1087.2 416.7 1083.4 400.0C1079.5 383.3 1075.7 366.7 1070.7 350.0C1065.7 333.3 1060.3 316.7 1053.5 300.0C1046.7 283.3 1035.1 260.5 1029.9 250.0C1024.6 239.5 1024.5 241.2 1021.8 237.0C1019.1 232.8 1016.6 229.1 1013.8 225.0C1010.9 220.9 1007.5 216.1 1004.7 212.5C1002.0 208.9 999.7 206.2 997.2 203.5C994.7 200.8 992.3 198.5 989.7 196.0C987.1 193.5 983.8 190.4 981.7 188.5C979.5 186.6 978.3 185.8 976.6 184.5C975.0 183.2 974.0 182.2 971.6 181.0C969.3 179.8 965.5 178.2 962.6 177.0C959.8 175.8 957.4 174.8 954.6 174.0C951.8 173.2 948.6 172.5 945.6 172.5Z" fill="none" stroke="#08080f" stroke-width="2.4"/>
<circle cx="948.5" cy="224" r="17" fill="#0b0c16"/>
<path d="M940.6 219.5A8.4 8.4 0 1 1 957.2 219.5" stroke="#e4e6ef" stroke-width="2" fill="none"/>
<ellipse cx="948.8" cy="225.5" rx="7" ry="6.5" fill="#030307"/>
<text transform="translate(924 598) rotate(90) skewX(-16)" font-family="'Liberation Sans', Arial, sans-serif" font-weight="700" font-size="74" textLength="414" lengthAdjust="spacingAndGlyphs" fill="#07070d" stroke="#07070d" stroke-width="7" stroke-linejoin="miter" stroke-miterlimit="2.5">AKSPORT</text>
<rect x="856" y="1232" width="29.5" height="93.5" rx="10" fill="#07070c"/>
<rect x="1005" y="1235" width="29.5" height="91.5" rx="10" fill="#07070c"/>
<path d="M870.5 1245L869 1316M1020 1247L1018.5 1316" stroke="#555a66" stroke-width="0.9" fill="none"/>
<path d="M912 1336Q907.5 1338 907.3 1348V1420Q908 1430 912.5 1436H976.5Q980 1430 980.2 1420V1348Q980 1338 977.5 1332Q945 1328 912 1336Z" fill="#050509"/>
<path d="M934 1343.5h20" stroke="#9aa0ae" stroke-width="4.4" stroke-linecap="round"/>
<path d="M938 1343.5h12" stroke="#23242c" stroke-width="2" stroke-linecap="round"/>
<path d="M941.5 1375L939.5 1470" stroke="#3a3c46" stroke-width="0.9"/>
</g>
<g id="reflections" clip-path="url(#floorclip)">
<g transform="translate(0 3030) scale(1 -1)"><use href="#board-deck-view"/><use href="#board-side-view"/><use href="#board-bottom-view"/></g>
<rect x="0" y="1514" width="1600" height="90" fill="url(#fade)"/>
</g>
<g id="feature-icons">
<circle cx="1360.8" cy="297.3" r="118.9" fill="#fff" stroke="#000" stroke-width="5"/>
<circle cx="1360.8" cy="791.5" r="118.9" fill="#fff" stroke="#000" stroke-width="5"/>
<circle cx="1360.8" cy="1275.6" r="118.9" fill="#fff" stroke="#000" stroke-width="5"/>
<text x="1336.5" y="315.6" font-family="'Liberation Sans', Arial, sans-serif" font-size="109" text-anchor="middle" textLength="112" lengthAdjust="spacingAndGlyphs" stroke="#fff" stroke-width="3" fill="#000">10</text>
<text transform="translate(1394.5 318.5) skewX(-6) scale(0.66 1)" font-family="'Liberation Sans', Arial, sans-serif" font-size="124" font-weight="700" fill="#000">′</text>
<text x="1402" y="375.6" font-family="'Liberation Sans', Arial, sans-serif" font-size="73" text-anchor="middle" textLength="39" lengthAdjust="spacingAndGlyphs" stroke="#fff" stroke-width="2" fill="#000">6</text>
<text transform="translate(1417.5 362) skewX(-14) scale(0.88 1)" font-family="'Liberation Sans', Arial, sans-serif" font-size="72" font-weight="400" fill="#000">″</text>
<path d="M1408.4 701.8C1409.9 702.7 1415.0 704.2 1417.4 706.9C1419.7 709.6 1421.5 714.4 1422.4 718.1C1423.4 721.9 1423.3 725.8 1423.0 729.4C1422.7 732.9 1421.9 736.3 1420.8 739.5C1419.6 742.7 1418.2 746.2 1416.2 748.5C1414.3 750.8 1410.2 752.4 1408.9 753.2C1410.2 752.7 1414.5 749.5 1416.2 750.2C1418.0 750.9 1418.8 754.6 1419.4 757.5C1420.0 760.4 1420.2 764.4 1419.8 767.6C1419.5 770.8 1418.7 773.6 1417.4 776.6C1416.0 779.6 1413.8 783.1 1411.8 785.6C1409.7 788.2 1408.1 789.7 1405.0 791.8C1401.9 793.9 1395.2 797.2 1393.2 798.2C1394.4 797.8 1399.5 795.0 1400.5 795.8C1401.5 796.5 1400.5 800.2 1399.4 802.5C1398.2 804.8 1395.8 807.5 1393.8 809.2C1391.7 811.0 1389.2 812.1 1387.0 812.9C1384.8 813.6 1381.8 813.8 1380.8 814.0C1381.9 814.0 1386.5 813.1 1387.2 814.4C1388.0 815.7 1386.8 819.0 1385.3 821.6C1383.8 824.2 1380.7 827.8 1378.0 830.1C1375.3 832.3 1371.9 833.9 1369.0 835.1C1366.1 836.4 1362.0 837.2 1360.6 837.6C1361.6 837.8 1366.4 837.5 1367.0 838.5C1367.5 839.5 1365.1 842.5 1363.9 843.9C1362.8 845.2 1361.2 846.0 1360.0 846.6C1358.8 847.2 1357.4 847.5 1356.8 847.7C1357.6 847.9 1360.9 847.8 1361.1 848.9C1361.4 849.9 1360.2 852.2 1358.3 854.0C1356.4 855.8 1353.3 858.3 1349.9 859.6C1346.4 861.0 1341.6 861.8 1337.5 862.1C1333.4 862.5 1327.9 861.9 1325.1 861.7C1322.3 861.4 1321.6 860.9 1320.8 860.8C1318.8 862.2 1312.1 866.9 1308.2 869.5C1304.4 872.2 1299.6 875.5 1297.7 876.5C1295.7 877.5 1295.0 876.9 1296.5 875.4C1298.1 873.9 1303.5 870.6 1307.1 867.8C1310.8 864.9 1316.7 859.9 1318.6 858.3C1318.4 856.5 1317.1 851.5 1317.2 847.5C1317.4 843.5 1318.4 838.1 1319.5 834.0C1320.6 829.9 1322.1 826.0 1324.0 822.8C1325.9 819.5 1329.0 815.2 1330.8 814.6C1332.5 814.1 1333.8 818.6 1334.3 819.4C1334.4 818.2 1334.2 815.1 1334.7 812.6C1335.2 810.2 1336.4 806.9 1337.5 804.8C1338.6 802.6 1340.0 799.8 1341.1 799.7C1342.1 799.5 1343.3 803.2 1343.8 803.9C1344.1 802.7 1345.0 799.9 1345.6 796.9C1346.2 793.8 1346.3 789.4 1347.6 785.6C1348.9 781.9 1351.0 777.9 1353.2 774.4C1355.5 770.8 1358.2 767.5 1361.1 764.2C1364.0 761.0 1368.9 755.2 1370.7 754.7C1372.5 754.2 1371.7 760.0 1371.9 761.1C1372.2 759.8 1372.9 755.9 1373.7 753.0C1374.5 750.1 1375.9 746.3 1376.9 744.0C1377.9 741.7 1378.9 738.7 1379.8 738.9C1380.7 739.2 1382.0 744.3 1382.5 745.4C1382.6 743.8 1382.4 739.0 1383.0 736.1C1383.5 733.3 1385.1 728.6 1385.9 728.2C1386.7 727.9 1387.4 733.1 1387.7 734.1C1387.8 732.8 1387.8 728.3 1388.3 726.0C1388.9 723.7 1390.3 720.5 1390.9 720.4C1391.6 720.2 1392.0 724.3 1392.2 725.1C1392.4 723.9 1393.0 720.7 1393.8 718.1C1394.5 715.6 1395.2 712.1 1396.6 709.7C1398.0 707.3 1400.2 705.0 1402.2 703.7C1404.2 702.4 1407.3 702.1 1408.4 701.8Z" fill="#000"/>
<path d="M1393.5 755.5C1381 785 1356 826 1320.5 859" stroke="#fff" stroke-width="0.9" fill="none"/>
<circle cx="1361.3" cy="1200.5" r="9.6" fill="#000"/>
<rect x="1358" y="1207" width="6.6" height="20" fill="#000"/>
<circle cx="1360.3" cy="1232.5" r="9.4" fill="#000"/>
<path d="M1284 1226.6L1437 1226.6L1437 1228.4Q1398 1237.5 1368 1239H1352Q1322 1237.5 1284 1228.4Z" fill="#000"/>
<path d="M1291.3 1221l3.6 3.4l-1 5h-5.2l-1-5zM1430 1221l3.6 3.4l-1 5h-5.2l-1-5z" fill="#000"/>
<path d="M1264.5 1293L1291.3 1231.5L1319.5 1293M1403 1293L1430 1231.5L1458.5 1293" stroke="#000" stroke-width="4.4" fill="none" stroke-linejoin="miter"/>
<path d="M1258 1291.6H1325.6V1295.2H1322.8C1316 1306 1305 1312.8 1292 1312.8C1279 1312.8 1268 1306 1261 1295.2H1258Z" fill="#000"/>
<path d="M1396 1291.6H1463V1295.2H1460.5C1453.5 1306 1442.5 1312.8 1429.5 1312.8C1416.5 1312.8 1405.5 1306 1398.6 1295.2H1396Z" fill="#000"/>
<path d="M1357 1240H1364L1368.6 1290.5H1352.6Z" fill="#000"/>
<rect x="1355" y="1290" width="10.6" height="18" fill="#000"/>
<rect x="1351.2" y="1307.5" width="18.8" height="27" fill="#000"/>
<path d="M1335 1347C1336 1339 1345 1334.2 1352 1333.6H1370C1377 1334.2 1385.5 1339 1386 1347H1393.8V1352.5H1403.4V1366.4H1317.8V1352.5H1328V1347Z" fill="#000"/>
</g>
<g id="feature-captions">
<text x="1363" y="462" font-family="'Liberation Sans', Arial, sans-serif" font-size="30.5" text-anchor="middle" textLength="71" lengthAdjust="spacingAndGlyphs" fill="#000" stroke="#fff" stroke-width="0.4">10.6′</text>
<text x="1360.5" y="499.5" font-family="'Liberation Sans', Arial, sans-serif" font-size="30.5" text-anchor="middle" textLength="119" lengthAdjust="spacingAndGlyphs" fill="#000" stroke="#fff" stroke-width="0.4">Stability</text>
<text x="1362.3" y="539.5" font-family="'Liberation Sans', Arial, sans-serif" font-size="30.5" text-anchor="middle" textLength="210.5" lengthAdjust="spacingAndGlyphs" fill="#000" stroke="#fff" stroke-width="0.4">All Skill Levels</text>
<text x="1359.4" y="951" font-family="'Liberation Sans', Arial, sans-serif" font-size="31" text-anchor="middle" textLength="181" lengthAdjust="spacingAndGlyphs" fill="#000" stroke="#fff" stroke-width="0.4">9KG/19.8lbs</text>
<text x="1359" y="994.5" font-family="'Liberation Sans', Arial, sans-serif" font-size="31" text-anchor="middle" textLength="164" lengthAdjust="spacingAndGlyphs" fill="#000" stroke="#fff" stroke-width="0.4">Ultra-Light</text>
<text x="1358.8" y="1038.8" font-family="'Liberation Sans', Arial, sans-serif" font-size="31" text-anchor="middle" textLength="117.5" lengthAdjust="spacingAndGlyphs" fill="#000" stroke="#fff" stroke-width="0.4">Durable</text>
<text x="1356.5" y="1438" font-family="'Liberation Sans', Arial, sans-serif" font-size="31" text-anchor="middle" textLength="287" lengthAdjust="spacingAndGlyphs" fill="#000" stroke="#fff" stroke-width="0.4">Maximum Capacity</text>
<text x="1357" y="1481" font-family="'Liberation Sans', Arial, sans-serif" font-size="31" text-anchor="middle" textLength="202" lengthAdjust="spacingAndGlyphs" fill="#000" stroke="#fff" stroke-width="0.4">136kg/300lbs</text>
</g>
</svg>
</body>
</html>
